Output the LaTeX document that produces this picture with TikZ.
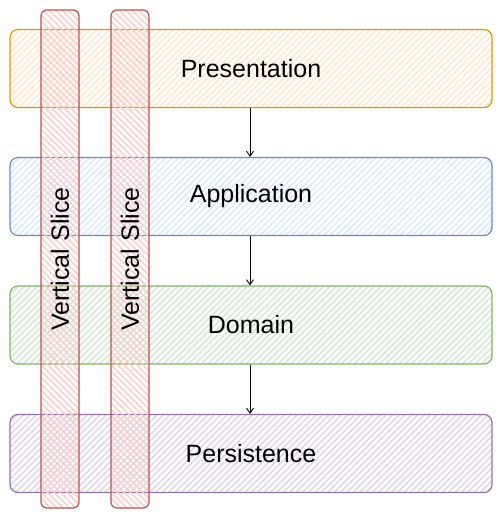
\documentclass[tikz,border=0pt]{standalone}
\usepackage{fontspec}
\setmainfont{Liberation Sans}
\usepackage{tikz}
\usetikzlibrary{positioning,arrows.meta,patterns.meta}
\definecolor{preFill}{HTML}{FFE6CC}\definecolor{preLine}{HTML}{D79B00}
\definecolor{appFill}{HTML}{DAE8FC}\definecolor{appLine}{HTML}{6C8EBF}
\definecolor{domFill}{HTML}{D5E8D4}\definecolor{domLine}{HTML}{82B366}
\definecolor{perFill}{HTML}{E1D5E7}\definecolor{perLine}{HTML}{9673A6}
\definecolor{sliceFill}{HTML}{F8CECC}\definecolor{sliceLine}{HTML}{B85450}

\begin{document}
\begin{tikzpicture}[
  x=1pt,y=-1pt,
  line width=1.2pt,
  every node/.style={font=\fontsize{25}{29}\selectfont},
  layer/.style={draw=#1Line,rounded corners=8pt,
    minimum width=482pt,minimum height=78pt,inner sep=0pt,
    pattern={Lines[angle=45,distance=4.5pt,line width=1.6pt]},
    pattern color=#1Fill},
  slice/.style={draw=sliceLine,rounded corners=6pt,rotate=90,
    minimum width=498pt,minimum height=38pt,inner sep=0pt,
    pattern={Lines[angle=-45,distance=4.5pt,line width=1.6pt]},
    pattern color=sliceFill},
  flow/.style={-{Straight Barb[length=5pt,width=7pt]},line width=0.9pt}
]
\useasboundingbox (0,0) rectangle (501,521);
% layers
\node[layer=pre] (pres) at (251,68.5) {Presentation};
\node[layer=app] (app)  at (251,196.5) {Application};
\node[layer=dom] (dom)  at (251,325) {Domain};
\node[layer=per] (pers) at (251,453.5) {Persistence};
% calls between layers
\draw[flow] (pres.south -| 250,0) -- (app.north -| 250,0);
\draw[flow] (app.south -| 250,0) -- (dom.north -| 250,0);
\draw[flow] (dom.south -| 250,0) -- (pers.north -| 250,0);
% slices on top
\node[slice] (sliceA) at (60,259) {Vertical Slice};
\node[slice] (sliceB) at (130,259) {Vertical Slice};
\end{tikzpicture}
\end{document}
